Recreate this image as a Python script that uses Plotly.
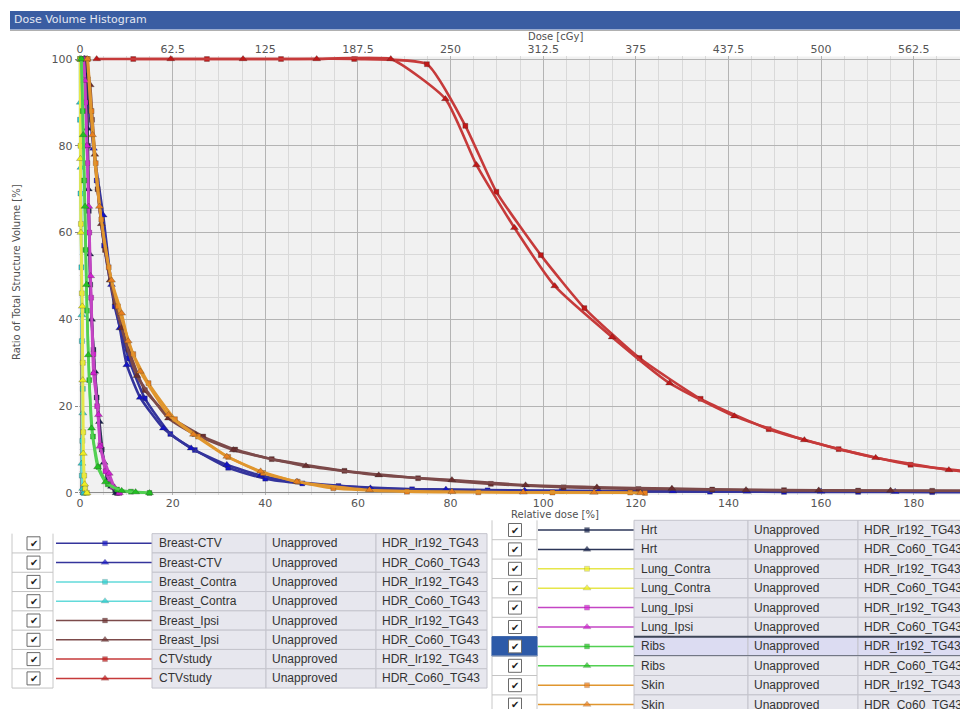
import plotly.graph_objects as go

# ---------------- data (relative dose [%] vs volume [%]) ----------------
rel_dose_ticks = [0, 20, 40, 60, 80, 100, 120, 140, 160, 180]
cgy_tick_vals = [0, 62.5, 125, 187.5, 250, 312.5, 375, 437.5, 500, 562.5]
cgy_tick_text = ["0", "62.5", "125", "187.5", "250", "312.5", "375", "437.5", "500", "562.5"]
CGY_PER_PCT = 3.125

breast_ctv_ir_dose = [1.2, 2.3, 3.6, 5.2, 7.5, 10.5, 14.0, 19.5, 24.8, 32, 40, 48, 55.8, 71.7, 88, 104, 120, 136, 152, 168, 184, 196]
breast_ctv_ir_vol = [100, 88, 72, 57, 43, 31, 21.8, 13.6, 9.9, 5.8, 3.3, 2.2, 1.6, 0.85, 0.6, 0.45, 0.35, 0.3, 0.25, 0.25, 0.2, 0.2]
breast_ctv_co_dose = [1.0, 2.9, 5.0, 6.8, 8.6, 10.1, 13.0, 18.0, 24.0, 31.7, 39, 47, 62.7, 79, 96, 112, 128, 144, 160, 176, 192]
breast_ctv_co_vol = [100, 79.4, 64, 48, 38, 29.5, 22, 14.9, 10.3, 6.5, 4.0, 2.5, 1.1, 0.8, 0.55, 0.45, 0.4, 0.35, 0.35, 0.3, 0.3]

breast_contra_ir_dose = [0.0, 0.0, 0.1, 0.3, 0.4, 0.6, 0.5, 0.4, 0.8]
breast_contra_ir_vol = [100, 86, 69, 52, 35, 24, 12, 4, 0]
breast_contra_co_dose = [0.0, 0.05, 0.2, 0.4, 0.6, 0.4, 0.6, 0.9]
breast_contra_co_vol = [100, 90, 75, 41, 18.4, 6.8, 1, 0]

breast_ipsi_ir_dose = [1.5, 2.6, 3.8, 5.4, 7.6, 10.5, 14.0, 19.5, 26.6, 33.5, 41.4, 57.1, 73.0, 88.7, 104.4, 120.6, 136.5, 152, 168, 184, 196]
breast_ipsi_ir_vol = [100, 86, 70, 56, 44, 33, 23.7, 17.5, 13, 10, 7.8, 5.1, 3.4, 2.1, 1.3, 0.9, 0.8, 0.65, 0.55, 0.5, 0.5]
breast_ipsi_co_dose = [1.3, 2.2, 3.2, 4.6, 6.5, 9.0, 12.3, 19.1, 25.0, 33.1, 48.8, 64.5, 80.3, 96.2, 111.6, 127.8, 143.8, 159.5, 175, 191]
breast_ipsi_co_vol = [100, 94, 78, 62, 49, 38, 27, 17.2, 13.4, 9.9, 6.2, 4.1, 3.0, 1.8, 1.3, 1.0, 0.7, 0.6, 0.55, 0.5]

ctv_ir_dose = [11.5, 27.4, 43.4, 59.2, 74.9, 83.2, 89.9, 99.5, 108.9, 120.8, 134.0, 148.7, 163.8, 179.3, 195.0]
ctv_ir_vol = [100, 100, 100, 100, 98.8, 84.6, 69.4, 54.8, 42.6, 31.1, 21.7, 14.7, 10.1, 6.5, 4.6]
ctv_co_dose = [3.6, 19.6, 35.2, 51.1, 67.1, 78.9, 85.6, 93.8, 102.5, 114.9, 127.3, 141.3, 156.4, 171.8, 187.6, 196]
ctv_co_vol = [100, 100, 100, 100, 100, 90.8, 75.6, 61.1, 47.7, 35.9, 25.3, 17.7, 12.2, 8.1, 5.3, 4.4]

hrt_ir_dose = [1.0, 1.5, 1.7, 1.9, 2.2, 2.9, 3.6, 4.7, 6.0, 7.6, 8.0]
hrt_ir_vol = [100, 90, 80, 65, 48, 33, 22, 10, 3.5, 0.7, 0]
hrt_co_dose = [1.0, 1.4, 1.6, 1.8, 2.1, 2.5, 3.2, 4.2, 5.2, 6.8, 7.8]
hrt_co_vol = [100, 96, 84, 70, 55, 40, 28, 16.4, 7, 1.5, 0]

lung_contra_ir_dose = [0.0, 0.1, 0.2, 0.4, 0.6, 0.7, 0.9, 1.1, 1.5]
lung_contra_ir_vol = [100, 80, 62, 46, 30, 14, 4, 1, 0]
lung_contra_co_dose = [0.0, 0.1, 0.2, 0.5, 0.6, 0.7, 1.0, 1.5]
lung_contra_co_vol = [100, 77, 60, 43, 26, 9.1, 2, 0]

lung_ipsi_ir_dose = [0.8, 1.2, 1.6, 2.0, 2.4, 2.9, 3.7, 4.4, 5.5, 7.0, 8.5]
lung_ipsi_ir_vol = [100, 90, 76, 60, 45, 32, 20, 11, 5, 1.5, 0]
lung_ipsi_co_dose = [0.8, 1.1, 1.5, 1.9, 2.3, 2.9, 4.0, 4.3, 6.3, 7.5, 8.5]
lung_ipsi_co_vol = [100, 95, 80, 66, 50, 27.6, 18, 10.7, 4.5, 1.2, 0]

ribs_ir_dose = [0.3, 0.6, 0.9, 1.2, 1.5, 2.0, 2.8, 4.0, 6.0, 8.0, 11.0, 15.0]
ribs_ir_vol = [100, 88, 72, 56, 42, 26, 13, 6, 2, 0.8, 0.3, 0]
ribs_co_dose = [0.3, 0.7, 1.1, 1.4, 1.8, 2.5, 3.8, 5.5, 9.0, 12.0, 15.0]
ribs_co_vol = [100, 82.5, 66, 48, 31.8, 14.9, 6, 2.5, 0.5, 0.2, 0]

skin_ir_dose = [1.7, 2.5, 3.4, 4.6, 6.2, 8.2, 11.5, 14.8, 20.5, 25.5, 32, 39.5, 47, 54.7, 70.6, 86, 102, 118.8, 122]
skin_ir_vol = [100, 88, 76, 63, 52, 43, 32, 25.3, 17, 13, 8.3, 4.6, 2.6, 1.1, 0.3, 0.15, 0.1, 0.1, 0]
skin_co_dose = [1.6, 2.7, 4.2, 6.8, 9.0, 10.4, 13.0, 19.1, 24.5, 31.7, 39, 46.8, 62.5, 80.3, 95.7, 111, 121]
skin_co_vol = [100, 82.5, 66, 49, 41.4, 35, 28, 18, 13.5, 8.4, 5, 2.6, 0.7, 0.3, 0.15, 0.1, 0]

status_text = "Unapproved"
plan_ir = "HDR_Ir192_TG43"
plan_co = "HDR_Co60_TG43"

# structure -> (line colour, marker colour)
struct_colors = {
    "Breast-CTV": ("#34349c", "#1414c4"),
    "Breast_Contra": ("#62dada", "#2ccccc"),
    "Breast_Ipsi": ("#7c4a4a", "#6a2e2e"),
    "CTVstudy": ("#c63a3a", "#c01818"),
    "Hrt": ("#2c3658", "#14204a"),
    "Lung_Contra": ("#e6e64a", "#eeee22"),
    "Lung_Ipsi": ("#c444c4", "#d020d0"),
    "Ribs": ("#52d052", "#22c022"),
    "Skin": ("#e0962e", "#e88020"),
}

series = [
    ("Breast-CTV", plan_ir, breast_ctv_ir_dose, breast_ctv_ir_vol),
    ("Breast-CTV", plan_co, breast_ctv_co_dose, breast_ctv_co_vol),
    ("Breast_Contra", plan_ir, breast_contra_ir_dose, breast_contra_ir_vol),
    ("Breast_Contra", plan_co, breast_contra_co_dose, breast_contra_co_vol),
    ("Breast_Ipsi", plan_ir, breast_ipsi_ir_dose, breast_ipsi_ir_vol),
    ("Breast_Ipsi", plan_co, breast_ipsi_co_dose, breast_ipsi_co_vol),
    ("CTVstudy", plan_ir, ctv_ir_dose, ctv_ir_vol),
    ("CTVstudy", plan_co, ctv_co_dose, ctv_co_vol),
    ("Hrt", plan_ir, hrt_ir_dose, hrt_ir_vol),
    ("Hrt", plan_co, hrt_co_dose, hrt_co_vol),
    ("Lung_Contra", plan_ir, lung_contra_ir_dose, lung_contra_ir_vol),
    ("Lung_Contra", plan_co, lung_contra_co_dose, lung_contra_co_vol),
    ("Lung_Ipsi", plan_ir, lung_ipsi_ir_dose, lung_ipsi_ir_vol),
    ("Lung_Ipsi", plan_co, lung_ipsi_co_dose, lung_ipsi_co_vol),
    ("Ribs", plan_ir, ribs_ir_dose, ribs_ir_vol),
    ("Ribs", plan_co, ribs_co_dose, ribs_co_vol),
    ("Skin", plan_ir, skin_ir_dose, skin_ir_vol),
    ("Skin", plan_co, skin_co_dose, skin_co_vol),
]

W, H = 960, 709


def px(x):
    return x / W


def py(y):
    return 1 - y / H


def symbol_for(plan):
    return "square" if plan == plan_ir else "triangle-up"


def size_for(plan):
    return 5 if plan == plan_ir else 7


fig = go.Figure()

# ---------------- DVH curves ----------------
for name, plan, dx, vy in series:
    lc, mc = struct_colors[name]
    fig.add_trace(go.Scatter(
        x=dx, y=vy, mode="lines+markers",
        line=dict(color=lc, width=2.6, shape="spline", smoothing=0.5),
        marker=dict(symbol=symbol_for(plan), size=size_for(plan), color=mc,
                    line=dict(color="rgba(40,40,40,0.5)", width=0.5)),
        cliponaxis=False, showlegend=False, hoverinfo="skip",
        xaxis="x", yaxis="y",
    ))

# invisible companion trace so the top (cGy) axis is drawn
fig.add_trace(go.Scatter(
    x=[d * CGY_PER_PCT for d in ctv_co_dose], y=ctv_co_vol, mode="lines",
    line=dict(width=0), opacity=0, xaxis="x2", yaxis="y",
    showlegend=False, hoverinfo="skip",
))

# ---------------- table (legend) ----------------
shapes = []
annotations = []
leg_x, leg_y, leg_sym, leg_col, leg_size = [], [], [], [], []

FONT_T = dict(family="Liberation Sans, Arial, sans-serif", size=12, color="#333333")

def add_rect(x0, y0, x1, y1, fill, line="#c4c4cc", lw=1):
    shapes.append(dict(type="rect", xref="x3", yref="y3", x0=x0, y0=y0, x1=x1, y1=y1,
                       fillcolor=fill, line=dict(color=line, width=lw), layer="below"))

def add_line(x0, y0, x1, y1, color, lw=1):
    shapes.append(dict(type="line", xref="x3", yref="y3", x0=x0, y0=y0, x1=x1, y1=y1,
                       line=dict(color=color, width=lw), layer="below"))

def add_text(x, y, text, font=FONT_T, xanchor="left"):
    annotations.append(dict(xref="x3", yref="y3", x=x, y=y, text=text, showarrow=False,
                            xanchor=xanchor, yanchor="middle", font=font))

def table(rows, y_first, row_h, cols, selected=None):
    cb_x0, cb_x1, cb_c, ln_x0, ln_x1, mk_x, c1, c2, c3, c4 = cols
    top = y_first - row_h / 2
    bottom = top + row_h * len(rows)
    add_line(cb_x0, top, cb_x0, bottom, "#c8c8c8")
    add_line(cb_x1, top, cb_x1, bottom, "#c8c8c8")
    for i, (name, plan, _, _) in enumerate(rows):
        yc = y_first + row_h * i
        t, b = yc - row_h / 2, yc + row_h / 2
        lc, mc = struct_colors[name]
        sel = (i == selected)
        if sel:
            add_rect(cb_x0, t, cb_x1, b, "#2d5aa8", line="#2d5aa8")
        add_line(cb_x0, b, cb_x1, b, "#c4c4c4")
        add_rect(cb_c - 6.5, yc - 6.5, cb_c + 6.5, yc + 6.5, "white", line="#6a6a6a")
        add_text(cb_c, yc, "✔", font=dict(family="DejaVu Sans", size=10, color="#202020"), xanchor="center")
        add_line(ln_x0, yc, ln_x1, yc, lc, 1.5)
        leg_x.append(mk_x); leg_y.append(yc)
        leg_sym.append(symbol_for(plan)); leg_col.append(mc); leg_size.append(size_for(plan))
        fill = "#dcdcf2" if sel else "#e7e7ee"
        for x0, x1 in ((c1, c2), (c2, c3), (c3, c4)):
            add_rect(x0, t, x1, b, fill)
        if sel:
            add_line(c1, t, W + 20, t, "#3c4456", 2)
            add_line(c1, b, W + 20, b, "#3c4456", 2)
        add_text(c1 + 5, yc, name)
        add_text(c2 + 4, yc, status_text)
        add_text(c3 + 4, yc, plan)

table(series[:8], 543.3, 19.3, (12, 53, 33.5, 56, 152, 105, 152, 266, 376, 487))
table(series[8:], 530.0, 19.4, (492, 537, 515, 538, 634, 587, 634, 748, 858, 975), selected=6)

fig.add_trace(go.Scatter(
    x=leg_x, y=leg_y, mode="markers", xaxis="x3", yaxis="y3",
    marker=dict(symbol=leg_sym, color=leg_col, size=leg_size,
                line=dict(color="rgba(40,40,40,0.4)", width=0.5)),
    showlegend=False, hoverinfo="skip", cliponaxis=False,
))

# ---------------- chrome ----------------
shapes.append(dict(type="rect", xref="x domain", yref="y domain", x0=0, x1=1, y0=0, y1=1,
                   fillcolor="#f1f1f1", line=dict(width=0), layer="below"))
shapes.append(dict(type="rect", xref="paper", yref="paper", x0=px(10), x1=1.01,
                   y0=py(29.5), y1=py(11), fillcolor="#3a5da2", line=dict(width=0)))
shapes.append(dict(type="line", xref="paper", yref="paper", x0=px(10), x1=1.01,
                   y0=py(30.5), y1=py(30.5), line=dict(color="#b0b0b0", width=1)))
annotations.append(dict(xref="paper", yref="paper", x=px(12), y=py(20), text="Dose Volume Histogram",
                        showarrow=False, xanchor="left", yanchor="middle",
                        font=dict(family="DejaVu Sans", size=11, color="#e4e8f2")))

TITLE_FONT = dict(family="DejaVu Sans", size=10, color="#505050")
annotations.append(dict(xref="paper", yref="paper", x=px(555), y=py(36), text="Dose [cGy]",
                        showarrow=False, xanchor="center", yanchor="middle", font=TITLE_FONT))
annotations.append(dict(xref="paper", yref="paper", x=px(555), y=py(514), text="Relative dose [%]",
                        showarrow=False, xanchor="center", yanchor="middle", font=TITLE_FONT))
annotations.append(dict(xref="paper", yref="paper", x=px(16), y=py(272),
                        text="Ratio of Total Structure Volume [%]", textangle=-90,
                        showarrow=False, xanchor="center", yanchor="middle", font=TITLE_FONT))

TICK_FONT = dict(family="DejaVu Sans", size=11, color="#555555")
x_lo, x_hi = -0.3, 190.0
y_lo, y_hi = -0.4, 100.6
X0_PX = 80 + x_lo * 4.628

fig.update_layout(
    width=W, height=H,
    margin=dict(l=0, r=0, t=0, b=0, pad=0, autoexpand=False),
    paper_bgcolor="white", plot_bgcolor="rgba(0,0,0,0)",
    showlegend=False,
    xaxis=dict(domain=[px(X0_PX), 1], range=[x_lo, x_hi], anchor="y", automargin=False,
               tickmode="array", tickvals=rel_dose_ticks,
               ticks="", tickfont=TICK_FONT,
               showgrid=True, gridcolor="#b4b4b4", gridwidth=1,
               minor=dict(tickmode="linear", tick0=0, dtick=5, showgrid=True, gridcolor="#d9d9d9"),
               zeroline=True, zerolinecolor="#8c8c8c", zerolinewidth=1,
               showline=False, fixedrange=True),
    xaxis2=dict(overlaying="x", side="top", anchor="y", automargin=False,
                range=[x_lo * CGY_PER_PCT, x_hi * CGY_PER_PCT],
                tickmode="array", tickvals=cgy_tick_vals, ticktext=cgy_tick_text,
                ticks="", tickfont=TICK_FONT,
                showgrid=False, zeroline=False, showline=False, fixedrange=True),
    yaxis=dict(domain=[py(494.7), py(56.4)], range=[y_lo, y_hi], anchor="x", automargin=False,
               tickmode="linear", tick0=0, dtick=20,
               ticks="outside", ticklen=3, tickcolor="#888888", tickfont=TICK_FONT,
               showgrid=True, gridcolor="#b4b4b4", gridwidth=1,
               minor=dict(tickmode="linear", tick0=0, dtick=5, showgrid=True, gridcolor="#d9d9d9"),
               zeroline=True, zerolinecolor="#8c8c8c", zerolinewidth=1,
               showline=False, fixedrange=True),
    xaxis3=dict(domain=[0, 1], range=[0, W], visible=False, anchor="y3", automargin=False, fixedrange=True),
    yaxis3=dict(domain=[0, py(518)], range=[H, 518], visible=False, anchor="x3", automargin=False, fixedrange=True),
    shapes=shapes,
    annotations=annotations,
)

fig.write_html("out.html", config={"displayModeBar": False},
               post_script="document.body.style.margin='0px';document.body.style.padding='0px';")
